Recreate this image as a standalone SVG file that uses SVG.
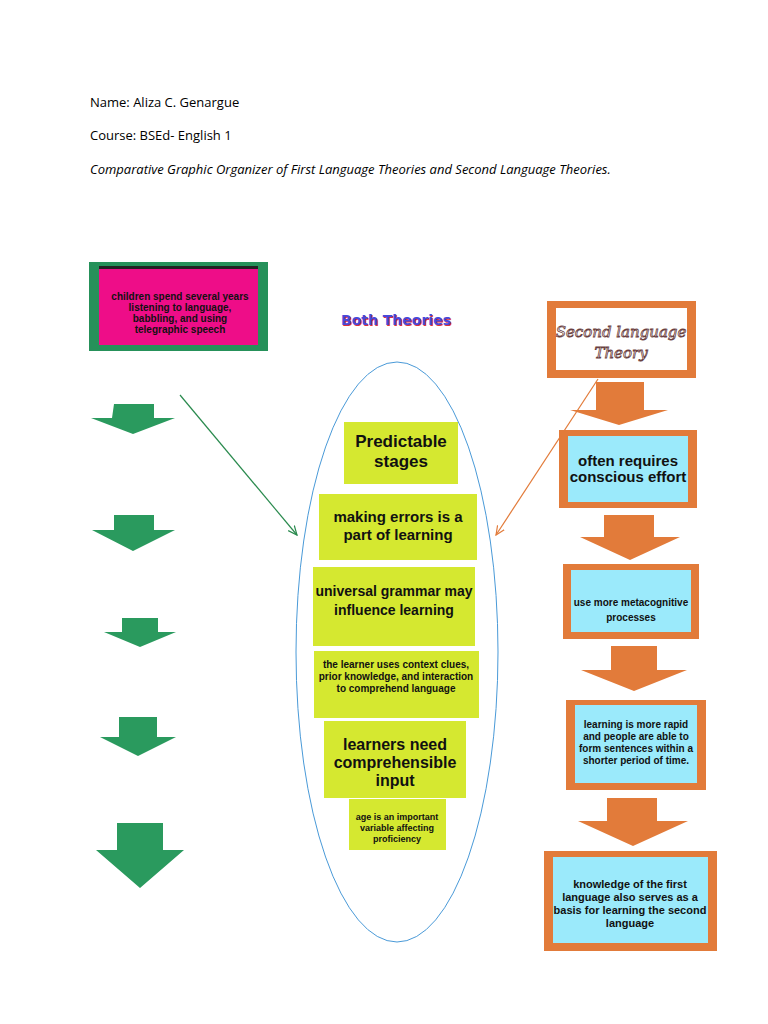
<svg xmlns="http://www.w3.org/2000/svg" width="768" height="1024" viewBox="0 0 768 1024">
<style>
.hd{font-family:"Open Sans","Liberation Sans",sans-serif;font-size:13px;fill:#000}
.t{font-family:"Liberation Sans Narrow","Liberation Sans",sans-serif;font-weight:bold;fill:#111;text-anchor:middle}
.y{fill:#d5e830}
.ga{fill:#2a9a5e}
.oa{fill:#e27b3a}
.ob{fill:#e27b3a}
.cy{fill:#9beafb}
</style>
<defs>
<marker id="mg" markerWidth="10" markerHeight="10" refX="9" refY="5" orient="auto" markerUnits="userSpaceOnUse"><path d="M0,1 L9,5 L0,9" fill="none" stroke="#2a8a4e" stroke-width="1.2"/></marker>
<marker id="mo" markerWidth="10" markerHeight="10" refX="9" refY="5" orient="auto" markerUnits="userSpaceOnUse"><path d="M0,1 L9,5 L0,9" fill="none" stroke="#e27b3a" stroke-width="1.2"/></marker>
</defs>
<rect width="768" height="1024" fill="#fff"/>
<text class="hd" x="90" y="107">Name:  Aliza C. Genargue</text>
<text class="hd" x="90" y="140">Course:  BSEd- English 1</text>
<text class="hd" x="90" y="174" font-style="italic">Comparative Graphic Organizer of First Language Theories and Second Language Theories.</text>

<g id="first">
<rect x="89" y="262" width="179" height="89" fill="#26915a"/>
<rect x="99" y="266" width="159" height="79" fill="#ee0d88"/>
<rect x="99" y="266" width="159" height="3" fill="#222"/>
<text class="t" font-size="10" x="180" y="300">children spend several years</text>
<text class="t" font-size="10" x="180" y="311">listening to language,</text>
<text class="t" font-size="10" x="180" y="322">babbling, and using</text>
<text class="t" font-size="10" x="180" y="333">telegraphic speech</text>
</g>

<g id="left-arrows">
<path class="ga" d="M114,404 H154 V418 H175 L133,434 L91,418 H112 Z"/>
<path class="ga" d="M114,515 H154 V530 H175 L133,551 L92,530 H114 Z"/>
<path class="ga" d="M122,618 H158 V632 H176 L140,647 L104,632 H122 Z"/>
<path class="ga" d="M119,717 H157 V737 H176 L138,756 L100,737 H119 Z"/>
<path class="ga" d="M117,823 H163 V850 H184 L140,888 L96,850 H117 Z"/>
</g>

<g id="both">
<text x="397" y="326" text-anchor="middle" font-family="'DejaVu Sans','Liberation Sans',sans-serif" font-weight="900" font-size="14" fill="#e0303a">Both Theories</text>
<text x="396" y="325" text-anchor="middle" font-family="'DejaVu Sans','Liberation Sans',sans-serif" font-weight="900" font-size="14" fill="#4a48d8">Both Theories</text>
<ellipse cx="397" cy="652" rx="101" ry="290" fill="none" stroke="#4a9ad8" stroke-width="1"/>
</g>

<g id="b1"><rect class="y" x="344" y="422" width="114" height="62"/>
<text class="t" font-size="17" x="401" y="447">Predictable</text><text class="t" font-size="17" x="401" y="467">stages</text></g>
<g id="b2"><rect class="y" x="319" y="494" width="158" height="66"/>
<text class="t" font-size="15" x="398" y="522">making errors is a</text><text class="t" font-size="15" x="398" y="540">part of learning</text></g>
<g id="b3"><rect class="y" x="313" y="567" width="162" height="79"/>
<text class="t" font-size="14" x="394" y="596">universal grammar may</text><text class="t" font-size="14" x="394" y="615">influence learning</text></g>
<g id="b4"><rect class="y" x="314" y="651" width="165" height="67"/>
<text class="t" font-size="10" x="396" y="668">the learner uses context clues,</text><text class="t" font-size="10" x="396" y="680">prior knowledge, and interaction</text><text class="t" font-size="10" x="396" y="692">to comprehend language</text><text class="t" font-size="10" x="396" y="703"> </text></g>
<g id="b5"><rect class="y" x="324" y="721" width="142" height="77"/>
<text class="t" font-size="16" x="395" y="750">learners need</text><text class="t" font-size="16" x="395" y="768">comprehensible</text><text class="t" font-size="16" x="395" y="786">input</text></g>
<g id="b6"><rect class="y" x="349" y="799" width="97" height="51"/>
<text class="t" font-size="9" x="397" y="820">age is an important</text><text class="t" font-size="9" x="397" y="831">variable affecting</text><text class="t" font-size="9" x="397" y="842">proficiency</text></g>

<g id="s0"><rect class="ob" x="547" y="301" width="149" height="77"/><rect x="556" y="308" width="131" height="62" fill="#fff"/>
<text x="621" y="337" text-anchor="middle" font-family="'DejaVu Serif',serif" font-style="italic" font-size="15" fill="#fff" stroke="#6a4040" stroke-width="0.8">Second language</text>
<text x="621" y="358" text-anchor="middle" font-family="'DejaVu Serif',serif" font-style="italic" font-size="15" fill="#fff" stroke="#6a4040" stroke-width="0.8">Theory</text></g>
<g id="s1"><rect class="ob" x="559" y="430" width="138" height="78"/><rect class="cy" x="568" y="436" width="120" height="66"/>
<text class="t" font-size="15" x="628" y="466">often requires</text><text class="t" font-size="15" x="628" y="482">conscious effort</text></g>
<g id="s2"><rect class="ob" x="563" y="564" width="136" height="75"/><rect class="cy" x="571" y="570" width="120" height="62"/>
<text class="t" font-size="10" x="631" y="606">use more metacognitive</text><text class="t" font-size="10" x="631" y="621">processes</text></g>
<g id="s3"><rect class="ob" x="566" y="700" width="140" height="90"/><rect class="cy" x="575" y="705" width="122" height="78"/>
<text class="t" font-size="10" x="636" y="728">learning is more rapid</text><text class="t" font-size="10" x="636" y="740">and people are able to</text><text class="t" font-size="10" x="636" y="752">form sentences within a</text><text class="t" font-size="10" x="636" y="764">shorter period of time.</text></g>
<g id="s4"><rect class="ob" x="544" y="851" width="173" height="100"/><rect class="cy" x="553" y="857" width="155" height="86"/>
<text class="t" font-size="11" x="630" y="888">knowledge of the first</text><text class="t" font-size="11" x="630" y="901">language also serves as a</text><text class="t" font-size="11" x="630" y="914">basis for learning the second</text><text class="t" font-size="11" x="630" y="927">language</text></g>

<g id="right-arrows">
<path class="oa" d="M596,382 H644 V410 H668 L619,425 L570,410 H596 Z"/>
<path class="oa" d="M604,515 H654 V537 H680 L630,560 L580,537 H604 Z"/>
<path class="oa" d="M611,646 H657 V670 H687 L634,691 L581,670 H611 Z"/>
<path class="oa" d="M607,798 H657 V821 H688 L633,846 L578,821 H607 Z"/>
</g>

<g id="connectors">
<line x1="180" y1="395" x2="297" y2="535" stroke="#2a8a4e" stroke-width="1.2" marker-end="url(#mg)"/>
<line x1="598" y1="379" x2="496" y2="535" stroke="#e27b3a" stroke-width="1.2" marker-end="url(#mo)"/>
</g>
</svg>
